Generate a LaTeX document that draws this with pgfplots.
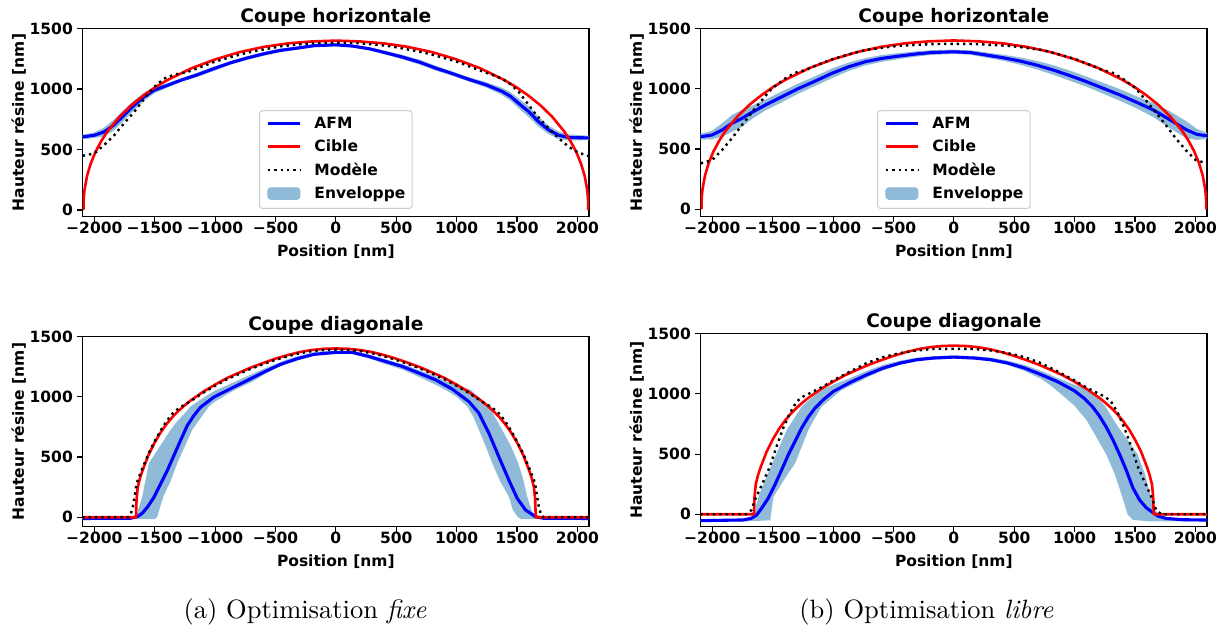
\documentclass[border=0pt]{standalone}
\usepackage{fontspec}
\usepackage{pgfplots}
\pgfplotsset{compat=1.18}
\newfontfamily\dejavu{DejaVu Sans}
\newcommand\tickfont{\dejavu\bfseries\fontsize{15.5}{18}\selectfont}
\newcommand\titlefont{\dejavu\bfseries\fontsize{18.6}{22}\selectfont}
\definecolor{envC}{RGB}{143,187,217}
\definecolor{afmC}{RGB}{0,0,255}
\definecolor{cibC}{RGB}{255,0,0}
\pgfplotsset{
 myax/.style={
  scale only axis, width=506.3pt,
  xmin=-2096, xmax=2096, ymax=1500,
  axis line style={line width=1.1pt, black},
  tick align=outside, tick pos=left, major tick length=5.4pt,
  every tick/.style={line width=1.1pt, black},
  xtick={-2000,-1500,-1000,-500,0,500,1000,1500,2000},
  xticklabels={−2000,−1500,−1000,−500,0,500,1000,1500,2000},
  ytick={0,500,1000,1500},
  yticklabels={0,500,1000,1500},
  tick label style={font=\tickfont},
  xticklabel style={anchor=base, inner sep=0pt, yshift=-11.8pt},
  yticklabel style={anchor=east, inner sep=0pt, xshift=-4.3pt},
  xlabel={Position [nm]}, ylabel={Hauteur résine [nm]},
  label style={font=\tickfont},
  xlabel style={at={(axis description cs:0.5,0)}, anchor=base, inner sep=0pt, yshift=-40pt},
  ylabel style={at={(axis description cs:-0.1163,0.5)}, anchor=base, inner sep=0pt},
  title style={font=\titlefont, at={(axis description cs:0.5,1)}, anchor=base, inner sep=0pt, yshift=-0.2pt},
  legend style={font=\tickfont, at={(axis description cs:0.5,0)}, anchor=south, yshift=7.7pt,
    draw=black!20, line width=1pt, rounded corners=3pt, fill=white, inner sep=6.7pt,
    row sep=9pt, column sep=13pt,
    nodes={inner sep=0pt, text height=11.3pt, text depth=3pt}},
  legend cell align=left,
  legend image code/.code={\draw[#1] (0pt,1.15pt) -- (32pt,1.15pt);},
 },
 afm/.style={afmC, line width=3.1pt, mark=none, line join=round},
 cib/.style={cibC, line width=2.6pt, mark=none, line join=round},
 mod/.style={black, line width=2.4pt, mark=none, dash pattern=on 2.4pt off 3.96pt},
 env/.style={fill=envC, draw=none, forget plot},
}
\begin{document}
\begin{tikzpicture}[x=1pt,y=1pt]
\useasboundingbox (0,0) rectangle (1224,628);

% ---------------- Top left: horizontal, fixe
\begin{axis}[myax, at={(82.7pt,411.3pt)}, anchor=south west, height=188.2pt, ymin=-55,
  title={Coupe horizontale}]
\addplot[env] coordinates {(-2096,622)(-2000,640)(-1920,680)(-1840,745)(-1755,828)(-1670,906)(-1590,969)(-1505,1014)(-1395,1048)(-1285,1087)(-1145,1136)(-1010,1186)(-870,1232)(-735,1271)(-595,1306)(-460,1334)(-320,1350)(-180,1370)(0,1375)(135,1365)(275,1345)(410,1315)(550,1282)(690,1243)(825,1193)(965,1145)(1100,1098)(1240,1058)(1375,1011)(1445,975)(1515,920)(1600,855)(1680,768)(1765,695)(1845,648)(1930,624)(2096,614)
(2096,578)(1930,574)(1845,588)(1765,625)(1680,688)(1600,765)(1515,840)(1445,905)(1375,951)(1240,1014)(1100,1062)(965,1109)(825,1153)(690,1203)(550,1246)(410,1285)(275,1321)(135,1345)(0,1355)(-180,1346)(-320,1326)(-460,1304)(-595,1276)(-735,1241)(-870,1202)(-1010,1150)(-1145,1100)(-1285,1057)(-1395,1012)(-1505,964)(-1590,899)(-1670,826)(-1755,738)(-1840,655)(-1920,610)(-2000,596)(-2096,586)};
\addplot[afm] coordinates {(-2096,604)(-2000,618)(-1920,645)(-1840,700)(-1755,783)(-1670,866)(-1590,934)(-1505,989)(-1395,1030)(-1285,1072)(-1145,1118)(-1010,1168)(-870,1217)(-735,1256)(-595,1291)(-460,1319)(-320,1338)(-180,1358)(0,1365)(135,1355)(275,1333)(410,1300)(550,1264)(690,1223)(825,1173)(965,1127)(1100,1080)(1240,1036)(1375,981)(1445,940)(1515,880)(1600,810)(1680,728)(1765,660)(1845,618)(1930,599)(2096,596)};
\addlegendentry{AFM}
\addplot[cib] coordinates {(-2090,0)(-2088,84)(-2085,126)(-2080,173)(-2060,282)(-2030,383)(-1990,481)(-1940,574)(-1891,649)(-1791,771)(-1692,867)(-1592,947)(-1493,1016)(-1393,1075)(-1194,1172)(-995,1246)(-796,1305)(-597,1348)(-398,1377)(-199,1393)(0,1400)(199,1393)(398,1377)(597,1348)(796,1305)(995,1246)(1194,1172)(1393,1075)(1493,1016)(1592,947)(1692,867)(1791,771)(1891,649)(1940,574)(1990,481)(2030,383)(2060,282)(2080,173)(2085,126)(2088,84)(2090,0)};
\addlegendentry{Cible}
\addplot[mod] coordinates {(-2096,448)(-2000,467)(-1920,536)(-1835,618)(-1755,715)(-1670,810)(-1590,915)(-1505,1016)(-1425,1085)(-1340,1118)(-1230,1140)(-1120,1181)(-1010,1223)(-870,1264)(-735,1300)(-595,1327)(-460,1352)(-320,1368)(-180,1379)(0,1382)(180,1379)(320,1368)(460,1352)(595,1327)(735,1300)(870,1264)(1010,1223)(1120,1181)(1230,1140)(1300,1115)(1377,1085)(1445,1040)(1515,975)(1580,890)(1650,797)(1720,720)(1790,645)(1860,580)(1929,522)(2000,478)(2096,445)};
\addlegendentry{Modèle}
\addlegendimage{legend image code/.code={\fill[envC] (0pt,-4.65pt) rectangle (32pt,6.85pt);}}
\addlegendentry{Enveloppe}
\end{axis}

% ---------------- Top right: horizontal, libre
\begin{axis}[myax, at={(700.7pt,411.3pt)}, anchor=south west, height=188.3pt, ymin=-61,
  title={Coupe horizontale}]
\addplot[env] coordinates {(-2096,627)(-2003,651)(-1920,712)(-1838,782)(-1755,824)(-1672,859)(-1562,909)(-1424,978)(-1286,1044)(-1148,1103)(-1011,1167)(-873,1216)(-735,1253)(-597,1279)(-459,1295)(-321,1309)(-184,1320)(0,1324)(136,1318)(274,1300)(412,1281)(550,1259)(688,1230)(826,1194)(964,1149)(1102,1099)(1240,1047)(1378,995)(1516,936)(1654,883)(1792,810)(1930,727)(2013,666)(2096,635)
(2096,585)(2013,576)(1930,587)(1792,670)(1654,763)(1516,836)(1378,899)(1240,957)(1102,1015)(964,1065)(826,1114)(688,1160)(550,1199)(412,1231)(274,1256)(136,1282)(0,1288)(-184,1280)(-321,1265)(-459,1245)(-597,1223)(-735,1193)(-873,1146)(-1011,1087)(-1148,1023)(-1286,960)(-1424,888)(-1562,819)(-1672,749)(-1755,684)(-1838,642)(-1920,602)(-2003,581)(-2096,577)};
\addplot[afm] coordinates {(-2096,602)(-2003,616)(-1920,657)(-1838,712)(-1755,754)(-1672,804)(-1562,864)(-1424,933)(-1286,1002)(-1148,1063)(-1011,1127)(-873,1181)(-735,1223)(-597,1251)(-459,1270)(-321,1287)(-184,1300)(0,1306)(136,1300)(274,1278)(412,1256)(550,1229)(688,1195)(826,1154)(964,1107)(1102,1057)(1240,1002)(1378,947)(1516,886)(1654,823)(1792,740)(1930,657)(2013,621)(2096,610)};
\addlegendentry{AFM}
\addplot[cib] coordinates {(-2090,0)(-2088,84)(-2085,126)(-2080,173)(-2060,282)(-2030,383)(-1990,481)(-1940,574)(-1891,649)(-1791,771)(-1692,867)(-1592,947)(-1493,1016)(-1393,1075)(-1194,1172)(-995,1246)(-796,1305)(-597,1348)(-398,1377)(-199,1393)(0,1400)(199,1393)(398,1377)(597,1348)(796,1305)(995,1246)(1194,1172)(1393,1075)(1493,1016)(1592,947)(1692,867)(1791,771)(1891,649)(1940,574)(1990,481)(2030,383)(2060,282)(2080,173)(2085,126)(2088,84)(2090,0)};
\addlegendentry{Cible}
\addplot[mod] coordinates {(-2096,381)(-2003,408)(-1920,491)(-1838,588)(-1755,698)(-1672,804)(-1589,905)(-1507,1002)(-1396,1085)(-1314,1132)(-1231,1154)(-1121,1201)(-1011,1243)(-873,1284)(-735,1320)(-597,1339)(-459,1355)(-184,1370)(0,1372)(184,1370)(459,1355)(597,1339)(735,1320)(873,1284)(1011,1243)(1121,1201)(1231,1154)(1314,1132)(1396,1085)(1507,1002)(1589,905)(1672,804)(1755,698)(1838,588)(1920,491)(2003,408)(2096,381)};
\addlegendentry{Modèle}
\addlegendimage{legend image code/.code={\fill[envC] (0pt,-4.65pt) rectangle (32pt,6.85pt);}}
\addlegendentry{Enveloppe}
\end{axis}

% ---------------- Bottom left: diagonal, fixe
\begin{axis}[myax, at={(82.7pt,101.3pt)}, anchor=south west, height=190.3pt, ymin=-78,
  title={Coupe diagonale}]
\addplot[env] coordinates {(-2096,-3)(-1700,-3)(-1660,5)(-1640,50)(-1620,115)(-1603,171)(-1575,310)(-1548,449)(-1500,523)(-1429,631)(-1368,725)(-1310,800)(-1250,864)(-1203,919)(-1120,975)(-1051,1020)(-1000,1050)(-900,1095)(-800,1140)(-700,1185)(-600,1230)(-500,1270)(-400,1310)(-300,1340)(-200,1365)(-100,1378)(0,1380)(136,1378)(273,1350)(411,1310)(550,1270)(687,1220)(825,1170)(964,1105)(1115,1057)(1267,919)(1377,725)(1450,590)(1510,449)(1550,320)(1584,171)(1620,60)(1653,0)(1700,-3)(2096,-3)
(2096,-17)(1530,-15)(1500,10)(1466,60)(1432,171)(1360,300)(1295,449)(1240,590)(1184,725)(1140,830)(1088,919)(1000,1000)(908,1057)(825,1100)(687,1165)(550,1225)(411,1270)(273,1318)(136,1355)(0,1358)(-100,1352)(-200,1335)(-300,1305)(-400,1275)(-500,1235)(-600,1180)(-700,1120)(-800,1075)(-900,1020)(-1000,960)(-1051,919)(-1120,822)(-1189,725)(-1250,590)(-1313,449)(-1368,300)(-1429,171)(-1480,0)(-1500,-15)(-2096,-17)};
\addplot[afm] coordinates {(-2096,-10)(-1700,-8)(-1644,5)(-1603,33)(-1561,83)(-1506,166)(-1451,277)(-1396,387)(-1341,512)(-1286,637)(-1230,761)(-1175,844)(-1120,913)(-1010,997)(-872,1066)(-733,1135)(-596,1204)(-458,1268)(-320,1315)(-182,1351)(0,1367)(136,1367)(273,1334)(411,1292)(550,1251)(687,1196)(825,1140)(964,1063)(1101,960)(1184,864)(1267,698)(1349,503)(1432,310)(1501,158)(1570,61)(1653,5)(1720,-8)(2096,-10)};
\addplot[cib] coordinates {(-2100,0)(-1655,0)(-1650,150)(-1640,250)(-1620,330)(-1600,390)(-1550,520)(-1500,620)(-1450,705)(-1400,775)(-1350,835)(-1300,885)(-1250,930)(-1200,970)(-1100,1040)(-1000,1100)(-900,1155)(-800,1200)(-700,1243)(-600,1280)(-500,1315)(-400,1345)(-300,1370)(-200,1387)(-100,1397)(0,1400)(100,1397)(200,1387)(300,1370)(400,1345)(500,1315)(600,1280)(700,1243)(800,1200)(900,1155)(1000,1100)(1100,1040)(1200,970)(1250,930)(1300,885)(1350,835)(1400,775)(1450,705)(1500,620)(1550,520)(1600,390)(1620,330)(1640,250)(1650,150)(1655,0)(2100,0)};
\addplot[mod] coordinates {(-2100,0)(-1720,0)(-1700,20)(-1680,90)(-1665,180)(-1650,280)(-1620,360)(-1600,410)(-1550,530)(-1500,630)(-1450,720)(-1400,800)(-1350,862)(-1300,905)(-1250,935)(-1200,965)(-1100,1032)(-1000,1090)(-900,1145)(-800,1190)(-700,1233)(-600,1270)(-500,1305)(-400,1335)(-300,1360)(-200,1378)(-100,1388)(0,1390)(100,1388)(200,1378)(300,1360)(400,1335)(500,1305)(600,1270)(700,1233)(800,1190)(900,1145)(1000,1090)(1100,1032)(1200,965)(1250,935)(1300,905)(1350,862)(1400,800)(1450,720)(1500,630)(1550,530)(1600,410)(1620,360)(1650,280)(1665,180)(1680,90)(1700,20)(1720,0)(2100,0)};
\end{axis}

% ---------------- Bottom right: diagonal, libre
\begin{axis}[myax, at={(700.7pt,101.3pt)}, anchor=south west, height=193.1pt, ymin=-103,
  title={Coupe diagonale}]
\addplot[env] coordinates {(-2096,-45)(-1700,-40)(-1660,-10)(-1640,60)(-1618,146)(-1560,290)(-1502,424)(-1440,570)(-1383,701)(-1320,800)(-1259,894)(-1180,965)(-1094,1033)(-999,1075)(-860,1130)(-722,1190)(-585,1240)(-446,1275)(-308,1300)(-170,1312)(0,1318)(170,1312)(308,1300)(446,1275)(585,1240)(722,1190)(860,1130)(999,1075)(1100,1040)(1162,1000)(1250,900)(1350,740)(1450,600)(1520,500)(1580,340)(1630,150)(1670,30)(1697,0)(1720,-35)(2096,-42)
(2096,-58)(1600,-58)(1480,-45)(1438,0)(1390,160)(1330,340)(1260,500)(1180,640)(1100,780)(1000,900)(886,1000)(800,1070)(722,1125)(585,1190)(446,1240)(308,1270)(170,1285)(0,1292)(-170,1285)(-308,1270)(-446,1240)(-585,1195)(-722,1135)(-860,1065)(-928,1033)(-1010,965)(-1094,894)(-1150,800)(-1204,701)(-1260,560)(-1314,424)(-1404,290)(-1494,146)(-1520,-50)(-1700,-58)(-2096,-58)};
\addplot[afm] coordinates {(-2096,-53)(-1744,-47)(-1675,-33)(-1633,-6)(-1592,50)(-1537,133)(-1482,244)(-1426,368)(-1371,493)(-1316,604)(-1261,715)(-1206,806)(-1150,881)(-1082,950)(-999,1019)(-860,1094)(-722,1158)(-585,1214)(-446,1255)(-308,1283)(-170,1297)(0,1305)(170,1297)(308,1283)(446,1255)(585,1214)(722,1160)(860,1100)(999,1025)(1082,960)(1150,890)(1206,815)(1261,725)(1316,620)(1371,500)(1426,370)(1482,220)(1537,120)(1592,55)(1640,20)(1690,-15)(1760,-35)(1900,-45)(2096,-48)};
\addplot[cib] coordinates {(-2100,0)(-1655,0)(-1650,150)(-1640,250)(-1620,330)(-1600,390)(-1550,520)(-1500,620)(-1450,705)(-1400,775)(-1350,835)(-1300,885)(-1250,930)(-1200,970)(-1100,1040)(-1000,1100)(-900,1155)(-800,1200)(-700,1243)(-600,1280)(-500,1315)(-400,1345)(-300,1370)(-200,1387)(-100,1397)(0,1400)(100,1397)(200,1387)(300,1370)(400,1345)(500,1315)(600,1280)(700,1243)(800,1200)(900,1155)(1000,1100)(1100,1040)(1200,970)(1250,930)(1300,885)(1350,835)(1400,775)(1450,705)(1500,620)(1550,520)(1600,390)(1620,330)(1640,250)(1650,150)(1655,0)(2100,0)};
\addplot[mod] coordinates {(-2100,0)(-1720,0)(-1700,15)(-1675,36)(-1647,119)(-1578,271)(-1523,396)(-1468,562)(-1413,715)(-1358,840)(-1302,936)(-1247,978)(-1164,1019)(-1082,1061)(-999,1111)(-860,1185)(-722,1255)(-585,1305)(-446,1338)(-308,1360)(-170,1372)(0,1374)(170,1372)(308,1360)(446,1338)(585,1305)(722,1255)(860,1185)(999,1111)(1082,1061)(1164,1019)(1247,978)(1302,936)(1358,840)(1413,715)(1468,562)(1523,396)(1578,271)(1647,119)(1675,36)(1700,15)(1720,0)(2100,0)};
\end{axis}

\node[scale=2.65, anchor=base, inner sep=0pt] at (305,9) {\fontsize{10}{12}\selectfont (a) Optimisation \textit{fixe}};
\node[scale=2.65, anchor=base, inner sep=0pt] at (926.5,9) {\fontsize{10}{12}\selectfont (b) Optimisation \textit{libre}};
\end{tikzpicture}
\end{document}
